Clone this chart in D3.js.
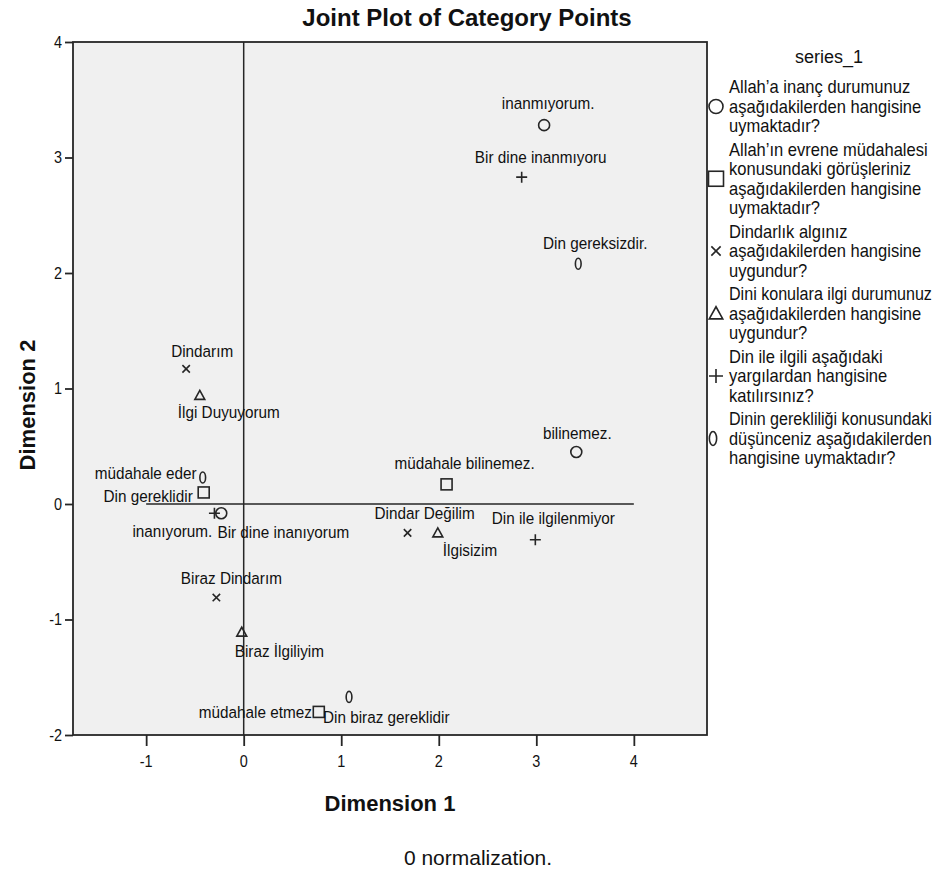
<!DOCTYPE html>
<html><head><meta charset="utf-8">
<script src="https://cdn.jsdelivr.net/npm/d3@7"></script>
<style>body{margin:0;background:#fff} svg{display:block}</style>
</head><body><div id="chart"></div>
<script>
// ---------- data ----------
const titleText = "Joint Plot of Category Points";
const xTitle = "Dimension 1";
const yTitle = "Dimension 2";
const footnote = "0 normalization.";
const legendTitle = "series_1";
const seriesNames = [
  "Allah’a inanç durumunuz aşağıdakilerden hangisine uymaktadır?",
  "Allah’ın evrene müdahalesi konusundaki görüşleriniz aşağıdakilerden hangisine uymaktadır?",
  "Dindarlık algınız aşağıdakilerden hangisine uygundur?",
  "Dini konulara ilgi durumunuz aşağıdakilerden hangisine uygundur?",
  "Din ile ilgili aşağıdaki yargılardan hangisine katılırsınız?",
  "Dinin gerekliliği konusundaki düşünceniz aşağıdakilerden hangisine uymaktadır?"
];
const legendLines = [
  ["Allah’a inanç durumunuz", "aşağıdakilerden hangisine", "uymaktadır?"],
  ["Allah’ın evrene müdahalesi", "konusundaki görüşleriniz", "aşağıdakilerden hangisine", "uymaktadır?"],
  ["Dindarlık algınız", "aşağıdakilerden hangisine", "uygundur?"],
  ["Dini konulara ilgi durumunuz", "aşağıdakilerden hangisine", "uygundur?"],
  ["Din ile ilgili aşağıdaki", "yargılardan hangisine", "katılırsınız?"],
  ["Dinin gerekliliği konusundaki", "düşünceniz aşağıdakilerden", "hangisine uymaktadır?"]
];
const seriesSymbols = ["circle", "square", "cross", "triangle", "plus", "zero"];

const pointLabels = [
  "inanmıyorum.", "bilinemez.", "inanıyorum.",
  "müdahale bilinemez.", "müdahale eder", "müdahale etmez",
  "Dindarım", "Dindar Değilim", "Biraz Dindarım",
  "İlgi Duyuyorum", "İlgisizim", "Biraz İlgiliyim",
  "Bir dine inanmıyoru", "Din ile ilgilenmiyor", "Bir dine inanıyorum",
  "Din gereksizdir.", "Din gereklidir", "Din biraz gereklidir"
];
const pointSeries = [0,0,0, 1,1,1, 2,2,2, 3,3,3, 4,4,4, 5,5,5];
const dim1 = [3.08, 3.41, -0.23,  2.08, -0.41, 0.77,  -0.59, 1.68, -0.28,  -0.45, 1.99, -0.02,  2.85, 2.99, -0.30,  3.43, -0.42, 1.08];
const dim2 = [3.28, 0.45, -0.08,  0.17, 0.10, -1.80,  1.17, -0.25, -0.81,  0.94, -0.25, -1.11,  2.83, -0.31, -0.08,  2.08, 0.23, -1.67];

const xTicks = [-1, 0, 1, 2, 3, 4];
const yTicks = [-2, -1, 0, 1, 2, 3, 4];
const xDomain = [-1.75, 4.75];
const yDomain = [-2, 4];
const refLineX = [-1, 4];   // extent of the horizontal zero line

// ---------- layout (not data) ----------
const labelPlace = [
  [4,-22,"middle"], [1,-19,"middle"], [-9,18,"end"],
  [18,-21,"middle"], [-7,-19,"end"], [-7,0,"end"],
  [16,-18,"middle"], [17,-20,"middle"], [15,-20,"middle"],
  [29,17,"middle"], [5,17,"start"], [-7,19,"start"],
  [19,-20,"middle"], [18,-22,"middle"], [3,19,"start"],
  [17,-21,"middle"], [-10,19,"end"], [-26,20,"start"]
];
const W = 936, H = 876;
const plot = {left: 73, right: 707, top: 42, bottom: 735};
const ink = "#262626";
const FONT = "'Liberation Sans', Arial, sans-serif";

const svg = d3.select("#chart").append("svg").attr("width", W).attr("height", H);

const x = d3.scaleLinear().domain(xDomain).range([plot.left, plot.right]);
const y = d3.scaleLinear().domain(yDomain).range([plot.bottom, plot.top]);

function txt(g, px, py, s, o) {
  const wrap = g.append("g");
  const t = wrap.append("text")
    .attr("x", 0).attr("y", 0).attr("dy", "0.35em")
    .attr("text-anchor", o.anchor || "middle")
    .attr("font-family", FONT)
    .attr("font-size", o.size)
    .attr("font-weight", o.weight || "normal")
    .attr("fill", o.fill || "#111")
    .text(s);
  let sx = o.sx || 1;
  if (o.maxW) {
    const w = t.node().getComputedTextLength() * sx;
    if (w > o.maxW) sx = sx * o.maxW / w;
  }
  wrap.attr("transform", `translate(${px},${py}) scale(${sx},1)`);
  return t;
}

function drawSymbol(g, type, cx, cy, r, sw) {
  const s = g.append("g").attr("transform", `translate(${cx},${cy})`)
    .attr("fill", "none").attr("stroke", ink).attr("stroke-width", sw);
  if (type === "circle") s.append("circle").attr("r", r);
  else if (type === "square") s.append("rect").attr("x", -r).attr("y", -r).attr("width", 2*r).attr("height", 2*r);
  else if (type === "cross") { const c = r*0.62; s.append("path").attr("d", `M${-c},${-c}L${c},${c}M${-c},${c}L${c},${-c}`); }
  else if (type === "triangle") { const h = r*0.9; s.append("path").attr("d", `M0,${-h}L${r*0.9},${h*0.8}L${-r*0.9},${h*0.8}Z`); }
  else if (type === "plus") s.append("path").attr("d", `M${-r},0L${r},0M0,${-r}L0,${r}`);
  else if (type === "zero") s.append("ellipse").attr("rx", r*0.52).attr("ry", r);
}

// plot background
svg.append("rect").attr("x", plot.left).attr("y", plot.top)
  .attr("width", plot.right - plot.left).attr("height", plot.bottom - plot.top)
  .attr("fill", "#f0f0f0");

// reference lines
svg.append("line").attr("x1", x(0)).attr("x2", x(0)).attr("y1", y(yDomain[1])).attr("y2", y(yDomain[0]))
  .attr("stroke", ink).attr("stroke-width", 1.5);
svg.append("line").attr("x1", x(refLineX[0])).attr("x2", x(refLineX[1])).attr("y1", y(0)).attr("y2", y(0))
  .attr("stroke", ink).attr("stroke-width", 1.5);

// frame
svg.append("rect").attr("x", plot.left).attr("y", plot.top)
  .attr("width", plot.right - plot.left).attr("height", plot.bottom - plot.top)
  .attr("fill", "none").attr("stroke", ink).attr("stroke-width", 1.8);

// axes
const xAxis = svg.append("g").attr("transform", `translate(0,${plot.bottom})`)
  .call(d3.axisBottom(x).tickValues(xTicks).tickSize(11).tickFormat(""));
xAxis.select(".domain").remove();
xAxis.selectAll("line").attr("stroke", ink).attr("stroke-width", 1.8);
xTicks.forEach(v => txt(svg, x(v), 761, String(v), {size: 17, sx: 0.85}));

const yAxis = svg.append("g").attr("transform", `translate(${plot.left},0)`)
  .call(d3.axisLeft(y).tickValues(yTicks).tickSize(8).tickFormat(""));
yAxis.select(".domain").remove();
yAxis.selectAll("line").attr("stroke", ink).attr("stroke-width", 1.8);
yTicks.forEach(v => txt(svg, 62, y(v), String(v), {size: 17, sx: 0.85, anchor: "end"}));

// points
const pg = svg.append("g");
dim1.forEach((d, i) => {
  const t = seriesSymbols[pointSeries[i]];
  const r = {circle: 5.5, square: 5.5, cross: 6, triangle: 5.5, plus: 5.5, zero: 5.5}[t];
  drawSymbol(pg, t, x(d), y(dim2[i]), r, 1.6);
});
dim1.forEach((d, i) => {
  const p = labelPlace[i];
  txt(pg, x(d) + p[0], y(dim2[i]) + p[1], pointLabels[i], {size: 17, sx: 0.9, anchor: p[2]});
});

// titles
txt(svg, 467, 18, titleText, {size: 24, weight: "bold"});
txt(svg, 390, 803, xTitle, {size: 22, weight: "bold"});
svg.append("g").attr("transform", `translate(27,405) rotate(-90)`)
  .append("text").attr("text-anchor", "middle").attr("dy", "0.35em")
  .attr("font-family", FONT).attr("font-size", 22).attr("font-weight", "bold").attr("fill", "#111")
  .text(yTitle);
txt(svg, 478, 858, footnote, {size: 20, sx: 1.05});

// legend
const lg = svg.append("g");
txt(lg, 829, 57, legendTitle, {size: 18});
const lineStep = 19.5, entryGap = 4;
let ly = 87;
legendLines.forEach((lines, k) => {
  const t = seriesSymbols[k];
  const mid = ly + (lines.length - 1) * lineStep / 2;
  const r = {circle: 7, square: 7.5, cross: 7.5, triangle: 7.5, plus: 7, zero: 7}[t];
  drawSymbol(lg, t, t === "zero" ? 713 : 716, mid, r, 1.6);
  lines.forEach((s, j) => txt(lg, 729, ly + j * lineStep, s, {size: 18, sx: 0.92, anchor: "start", maxW: 203}));
  ly += lines.length * lineStep + entryGap;
});
</script>
</body></html>
